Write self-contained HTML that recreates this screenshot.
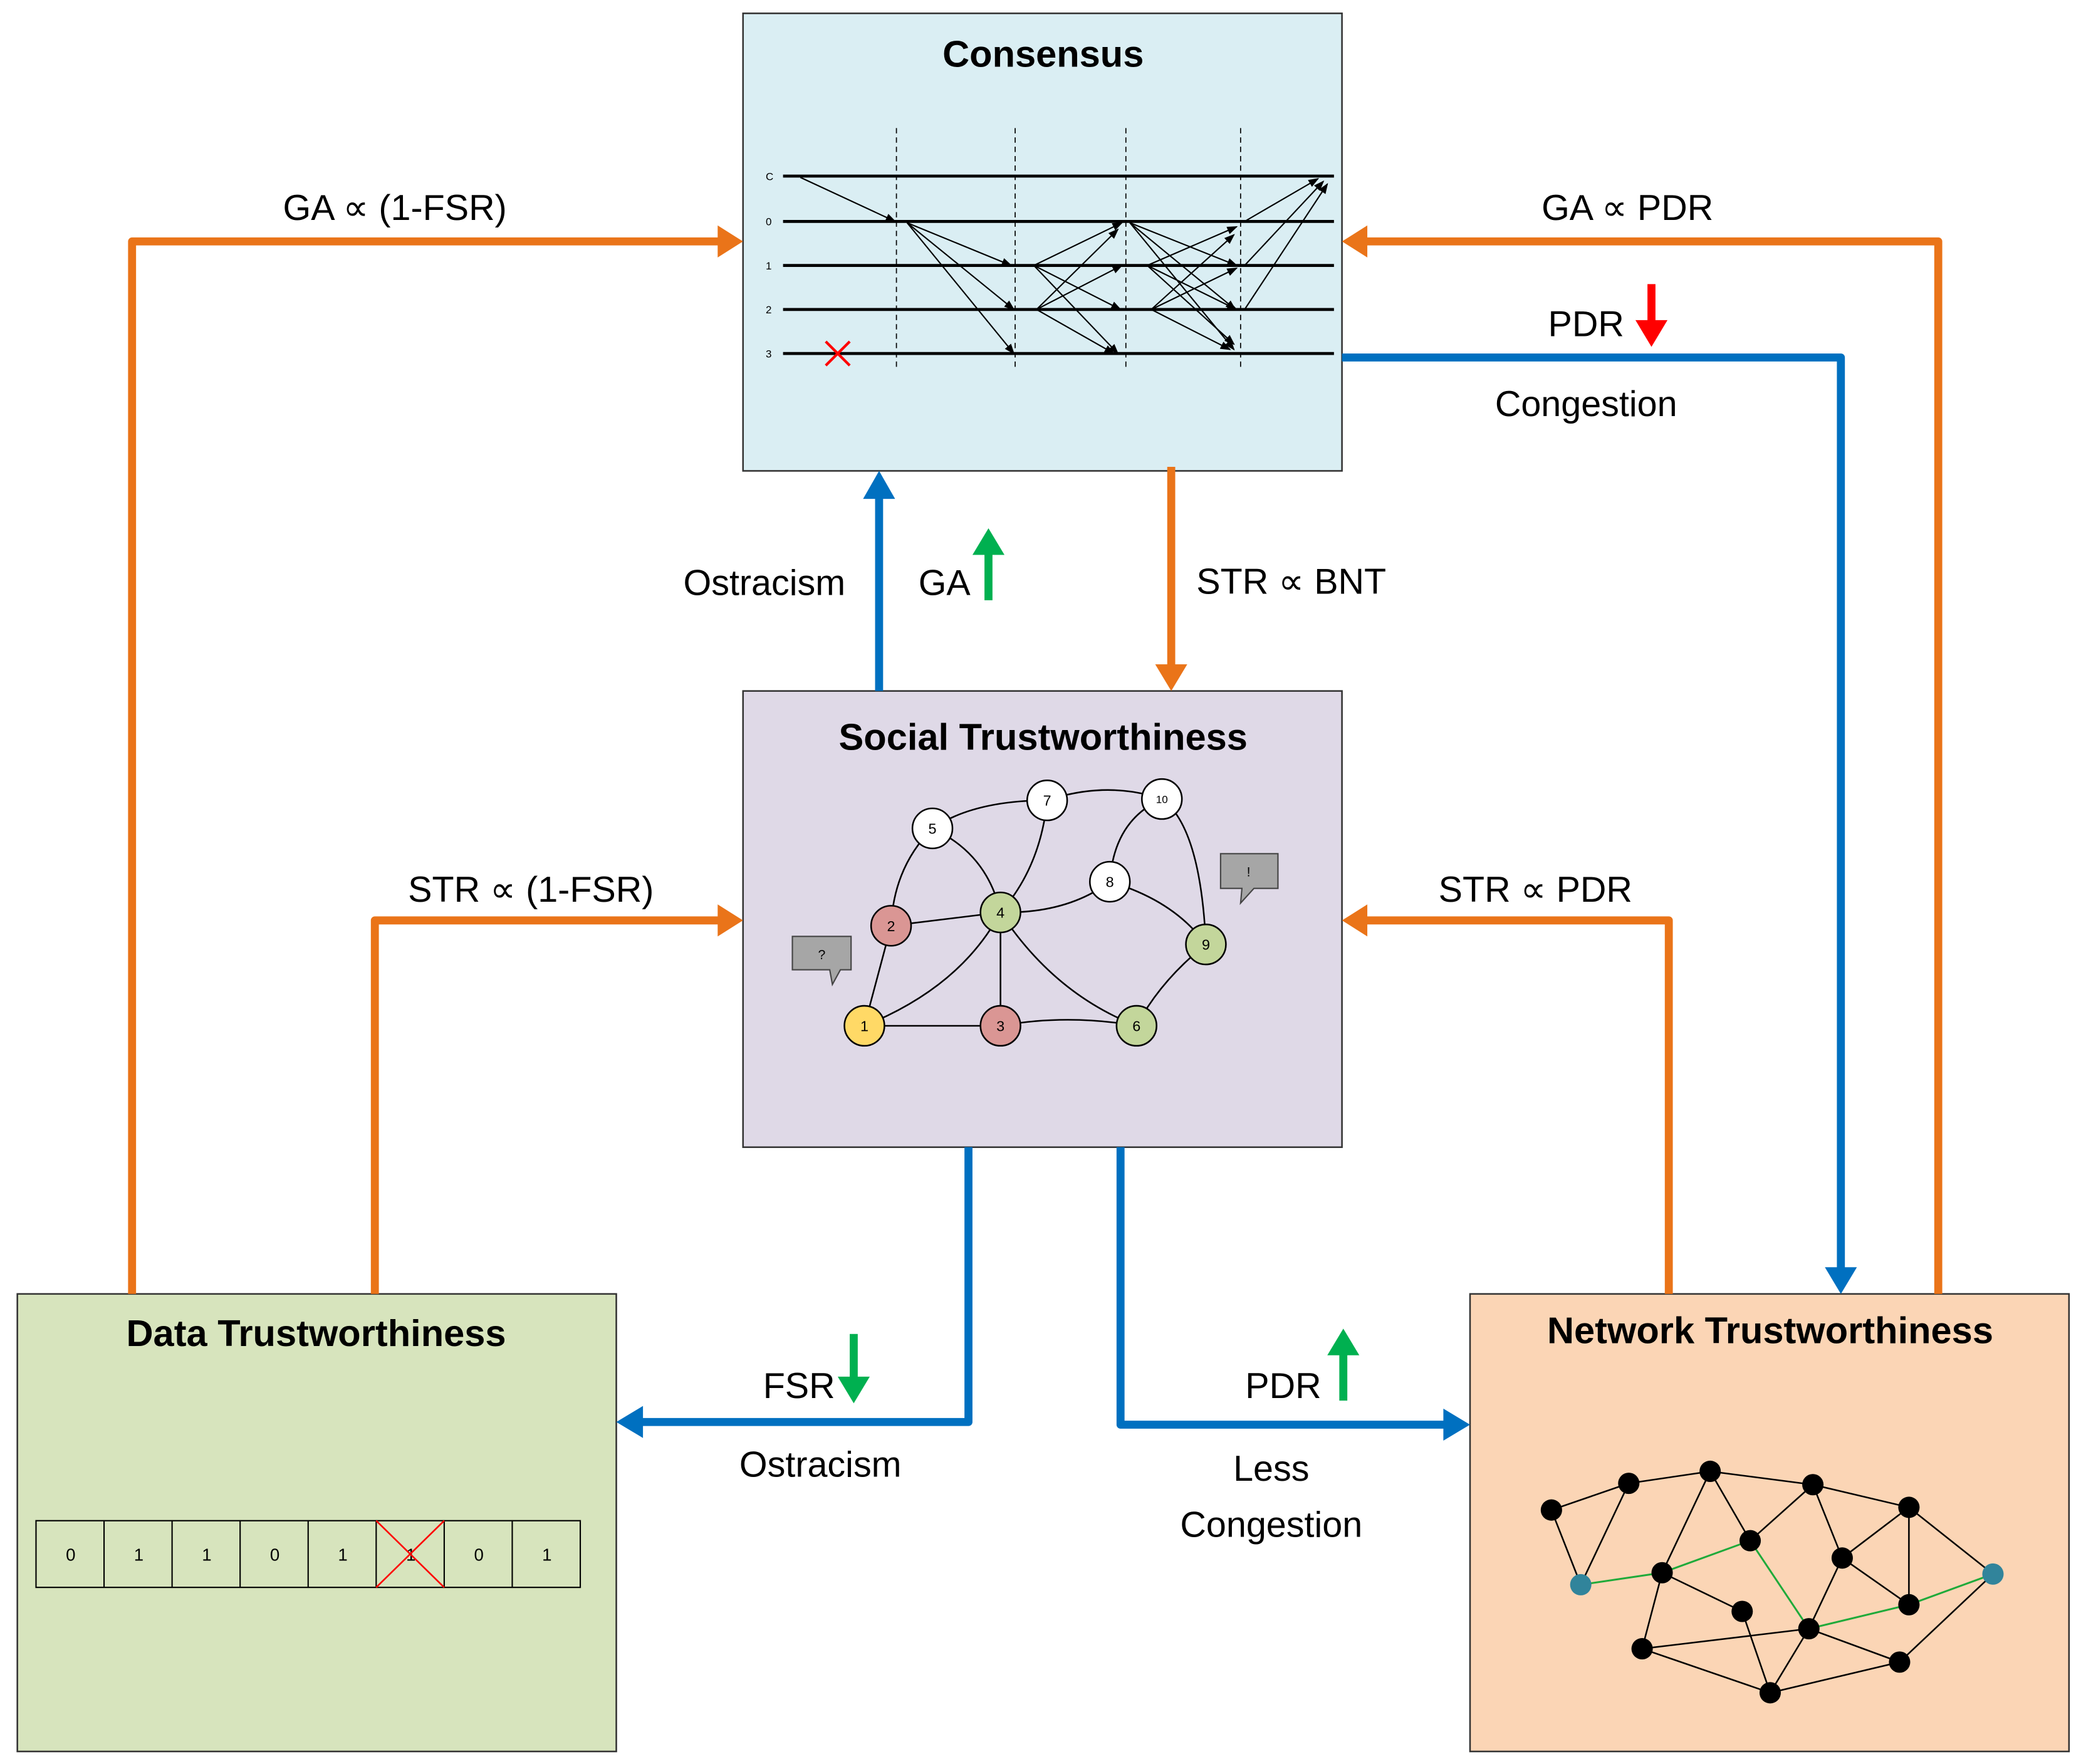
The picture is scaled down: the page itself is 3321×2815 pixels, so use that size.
<!DOCTYPE html>
<html><head><meta charset="utf-8"><style>html,body{margin:0;padding:0;background:#fff}svg{display:block}</style></head><body>
<svg width="3321" height="2815" viewBox="0 0 1560 1322.4" preserveAspectRatio="none" xmlns="http://www.w3.org/2000/svg" font-family="Liberation Sans, sans-serif">
<defs>
<marker id="ah" markerWidth="8" markerHeight="8" refX="7" refY="4" orient="auto" markerUnits="userSpaceOnUse"><path d="M0,1 L8,4 L0,7 z" fill="#000"/></marker>
</defs>
<!-- boxes -->
<rect x="557" y="10" width="449" height="343" fill="#DAEEF3" stroke="#333" stroke-width="1.2"/>
<rect x="557" y="518" width="449" height="342" fill="#DFD9E7" stroke="#333" stroke-width="1.2"/>
<rect x="13" y="970" width="449" height="343" fill="#D7E4BD" stroke="#333" stroke-width="1.2"/>
<rect x="1102" y="970" width="449" height="343" fill="#FBD5B5" stroke="#333" stroke-width="1.2"/>
<g font-weight="bold" font-size="28" text-anchor="middle" fill="#000">
<text x="782" y="50">Consensus</text>
<text x="782" y="562">Social Trustworthiness</text>
<text x="237" y="1009">Data Trustworthiness</text>
<text x="1327" y="1007">Network Trustworthiness</text>
</g>
<!-- consensus chart -->
<g stroke="#000" stroke-width="2.2">
<line x1="587" y1="132" x2="1000" y2="132"/><line x1="587" y1="166" x2="1000" y2="166"/><line x1="587" y1="199" x2="1000" y2="199"/><line x1="587" y1="232" x2="1000" y2="232"/><line x1="587" y1="265" x2="1000" y2="265"/>
</g>
<g stroke="#000" stroke-width="0.8" stroke-dasharray="4,3">
<line x1="672" y1="96" x2="672" y2="278"/><line x1="761" y1="96" x2="761" y2="278"/><line x1="844" y1="96" x2="844" y2="278"/><line x1="930" y1="96" x2="930" y2="278"/>
</g>
<g font-size="8" fill="#000"><text x="574" y="135">C</text><text x="574" y="169">0</text><text x="574" y="202">1</text><text x="574" y="235">2</text><text x="574" y="268">3</text></g>
<g stroke="#000" stroke-width="1" fill="none" marker-end="url(#ah)">
<line x1="600" y1="133" x2="671" y2="166"/>
<line x1="680" y1="167" x2="758" y2="199"/><line x1="680" y1="167" x2="760" y2="232"/><line x1="680" y1="167" x2="760" y2="265"/>
<line x1="775" y1="199" x2="841" y2="167"/><line x1="775" y1="199" x2="840" y2="232"/><line x1="775" y1="199" x2="838" y2="265"/>
<line x1="777" y1="232" x2="838" y2="172"/><line x1="777" y1="232" x2="841" y2="199"/><line x1="777" y1="232" x2="835" y2="265"/>
<line x1="847" y1="167" x2="927" y2="199"/><line x1="847" y1="167" x2="926" y2="232"/><line x1="847" y1="167" x2="925" y2="262"/>
<line x1="860" y1="199" x2="927" y2="170"/><line x1="860" y1="199" x2="927" y2="232"/><line x1="860" y1="199" x2="925" y2="258"/>
<line x1="863" y1="232" x2="925" y2="176"/><line x1="863" y1="232" x2="927" y2="201"/><line x1="863" y1="232" x2="922" y2="262"/>
<line x1="933" y1="166" x2="988" y2="134"/><line x1="933" y1="199" x2="992" y2="136"/><line x1="933" y1="232" x2="995" y2="138"/>
</g>
<g stroke="#f00" stroke-width="2"><line x1="619" y1="256" x2="637" y2="274"/><line x1="637" y1="256" x2="619" y2="274"/></g>
<!-- connectors -->
<g fill="none" stroke-width="6" stroke-linejoin="round">
<path d="M99,970 V181 H540" stroke="#EA7419"/>
<path d="M281,970 V690 H540" stroke="#EA7419"/>
<path d="M1453,970 V181 H1023" stroke="#EA7419"/>
<path d="M1251,970 V690 H1023" stroke="#EA7419"/>
<path d="M878,350 V500" stroke="#EA7419"/>
<path d="M659,518 V372" stroke="#0070C0"/>
<path d="M1006,268 H1380 V952" stroke="#0070C0"/>
<path d="M726,860 V1066 H480" stroke="#0070C0"/>
<path d="M840,860 V1068 H1084" stroke="#0070C0"/>
</g>
<g fill="#EA7419">
<path d="M557,181 L538,169 L538,193 z"/><path d="M557,690 L538,678 L538,702 z"/>
<path d="M1006,181 L1025,169 L1025,193 z"/><path d="M1006,690 L1025,678 L1025,702 z"/>
<path d="M878,518 L866,498 L890,498 z"/>
</g>
<g fill="#0070C0">
<path d="M659,353 L647,374 L671,374 z"/><path d="M1380,970 L1368,950 L1392,950 z"/>
<path d="M462,1066 L482,1054 L482,1078 z"/><path d="M1102,1068 L1082,1056 L1082,1080 z"/>
</g>
<!-- small arrows -->
<g stroke-width="6" fill="none"><line x1="741" y1="450" x2="741" y2="414" stroke="#00B050"/><line x1="1238" y1="213" x2="1238" y2="242" stroke="#f00"/><line x1="640" y1="1000" x2="640" y2="1034" stroke="#00B050"/><line x1="1007" y1="1050" x2="1007" y2="1014" stroke="#00B050"/></g>
<path d="M741,396 L729,416 L753,416 z" fill="#00B050"/><path d="M1238,260 L1226,240 L1250,240 z" fill="#f00"/>
<path d="M640,1052 L628,1032 L652,1032 z" fill="#00B050"/><path d="M1007,996 L995,1016 L1019,1016 z" fill="#00B050"/>
<!-- labels -->
<g font-size="27" fill="#000" text-anchor="middle">
<text x="296" y="165">GA ∝ (1-FSR)</text>
<text x="398" y="676">STR ∝ (1-FSR)</text>
<text x="1220" y="165">GA ∝ PDR</text>
<text x="1151" y="676">STR ∝ PDR</text>
<text x="968" y="445">STR ∝ BNT</text>
<text x="573" y="446">Ostracism</text>
<text x="708" y="446">GA</text>
<text x="1189" y="252">PDR</text>
<text x="1189" y="312">Congestion</text>
<text x="599" y="1048">FSR</text>
<text x="615" y="1107">Ostracism</text>
<text x="962" y="1048">PDR</text>
<text x="953" y="1110">Less</text>
<text x="953" y="1152">Congestion</text>
</g>
<!-- social graph -->
<g stroke="#000" stroke-width="1.2" fill="none">
<line x1="648" y1="769" x2="668" y2="694"/><path d="M648,769 Q720,740 750,684"/><line x1="648" y1="769" x2="750" y2="769"/>
<line x1="668" y1="694" x2="750" y2="684"/><path d="M668,694 Q670,650 699,621"/><path d="M699,621 Q740,640 750,684"/>
<path d="M699,621 Q730,600 785,600"/><path d="M785,600 Q780,650 750,684"/><path d="M785,600 Q830,585 871,599"/>
<path d="M871,599 Q835,615 832,661"/><path d="M871,599 Q900,620 904,708"/><path d="M750,684 Q800,685 832,661"/>
<path d="M832,661 Q880,675 904,708"/><line x1="750" y1="684" x2="750" y2="769"/><path d="M750,684 Q790,745 852,769"/>
<path d="M750,769 Q800,760 852,769"/><path d="M852,769 Q870,735 904,708"/>
</g>
<g stroke="#000" stroke-width="1.2" font-size="11" text-anchor="middle">
<circle cx="648" cy="769" r="15" fill="#FFD966"/><circle cx="668" cy="694" r="15" fill="#DA9694"/><circle cx="750" cy="769" r="15" fill="#DA9694"/>
<circle cx="750" cy="684" r="15" fill="#C3D69B"/><circle cx="699" cy="621" r="15" fill="#fff"/><circle cx="852" cy="769" r="15" fill="#C3D69B"/>
<circle cx="785" cy="600" r="15" fill="#fff"/><circle cx="832" cy="661" r="15" fill="#fff"/><circle cx="904" cy="708" r="15" fill="#C3D69B"/><circle cx="871" cy="599" r="15" fill="#fff"/>
</g>
<g font-size="11" text-anchor="middle" fill="#000">
<text x="648" y="773">1</text><text x="668" y="698">2</text><text x="750" y="773">3</text><text x="750" y="688">4</text><text x="699" y="625">5</text><text x="852" y="773">6</text><text x="785" y="604">7</text><text x="832" y="665">8</text><text x="904" y="712">9</text><text x="871" y="602" font-size="8">10</text>
</g>
<path d="M594,702 H638 V727 H630 L624,738 L622,727 H594 z" fill="#A6A6A6" stroke="#444"/><text x="616" y="719" font-size="10" text-anchor="middle">?</text>
<path d="M915,640 H958 V666 H940 L930,677 L931,666 H915 z" fill="#A6A6A6" stroke="#444"/><text x="936" y="657" font-size="10" text-anchor="middle">!</text>
<!-- data array -->
<g stroke="#000" stroke-width="1" fill="none">
<rect x="27" y="1140" width="408" height="50"/>
<line x1="78" y1="1140" x2="78" y2="1190"/><line x1="129" y1="1140" x2="129" y2="1190"/><line x1="180" y1="1140" x2="180" y2="1190"/><line x1="231" y1="1140" x2="231" y2="1190"/><line x1="282" y1="1140" x2="282" y2="1190"/><line x1="333" y1="1140" x2="333" y2="1190"/><line x1="384" y1="1140" x2="384" y2="1190"/>
</g>
<g font-size="13" text-anchor="middle" fill="#000">
<text x="53" y="1170">0</text><text x="104" y="1170">1</text><text x="155" y="1170">1</text><text x="206" y="1170">0</text><text x="257" y="1170">1</text><text x="308" y="1170">1</text><text x="359" y="1170">0</text><text x="410" y="1170">1</text>
</g>
<g stroke="#f00" stroke-width="1.2"><line x1="282" y1="1140" x2="333" y2="1190"/><line x1="333" y1="1140" x2="282" y2="1190"/></g>
<!-- network graph -->
<g stroke="#000" stroke-width="1.2">
<line x1="1163" y1="1132" x2="1221" y2="1112"/><line x1="1221" y1="1112" x2="1282" y2="1103"/><line x1="1282" y1="1103" x2="1359" y2="1113"/><line x1="1359" y1="1113" x2="1431" y2="1130"/>
<line x1="1163" y1="1132" x2="1185" y2="1188"/><line x1="1221" y1="1112" x2="1185" y2="1188"/><line x1="1431" y1="1130" x2="1494" y2="1180"/>
<line x1="1282" y1="1103" x2="1246" y2="1179"/><line x1="1282" y1="1103" x2="1312" y2="1155"/><line x1="1359" y1="1113" x2="1312" y2="1155"/>
<line x1="1359" y1="1113" x2="1381" y2="1168"/><line x1="1431" y1="1130" x2="1381" y2="1168"/><line x1="1381" y1="1168" x2="1431" y2="1203"/><line x1="1381" y1="1168" x2="1356" y2="1221"/>
<line x1="1246" y1="1179" x2="1231" y2="1236"/><line x1="1246" y1="1179" x2="1306" y2="1208"/><line x1="1306" y1="1208" x2="1327" y2="1269"/>
<line x1="1231" y1="1236" x2="1327" y2="1269"/><line x1="1327" y1="1269" x2="1356" y2="1221"/><line x1="1327" y1="1269" x2="1424" y2="1246"/>
<line x1="1356" y1="1221" x2="1424" y2="1246"/><line x1="1424" y1="1246" x2="1494" y2="1180"/><line x1="1431" y1="1130" x2="1431" y2="1203"/>
<line x1="1231" y1="1236" x2="1356" y2="1221"/>
</g>
<g stroke="#1FAA3A" stroke-width="1.4" fill="none"><polyline points="1185,1188 1246,1179 1312,1155 1356,1221 1431,1203 1494,1180"/></g>
<g fill="#000">
<circle cx="1163" cy="1132" r="8"/><circle cx="1221" cy="1112" r="8"/><circle cx="1282" cy="1103" r="8"/><circle cx="1359" cy="1113" r="8"/><circle cx="1431" cy="1130" r="8"/>
<circle cx="1246" cy="1179" r="8"/><circle cx="1312" cy="1155" r="8"/><circle cx="1381" cy="1168" r="8"/><circle cx="1306" cy="1208" r="8"/><circle cx="1356" cy="1221" r="8"/>
<circle cx="1431" cy="1203" r="8"/><circle cx="1231" cy="1236" r="8"/><circle cx="1424" cy="1246" r="8"/><circle cx="1327" cy="1269" r="8"/>
</g>
<circle cx="1185" cy="1188" r="8" fill="#31849B"/><circle cx="1494" cy="1180" r="8" fill="#31849B"/>
</svg>
</body></html>
